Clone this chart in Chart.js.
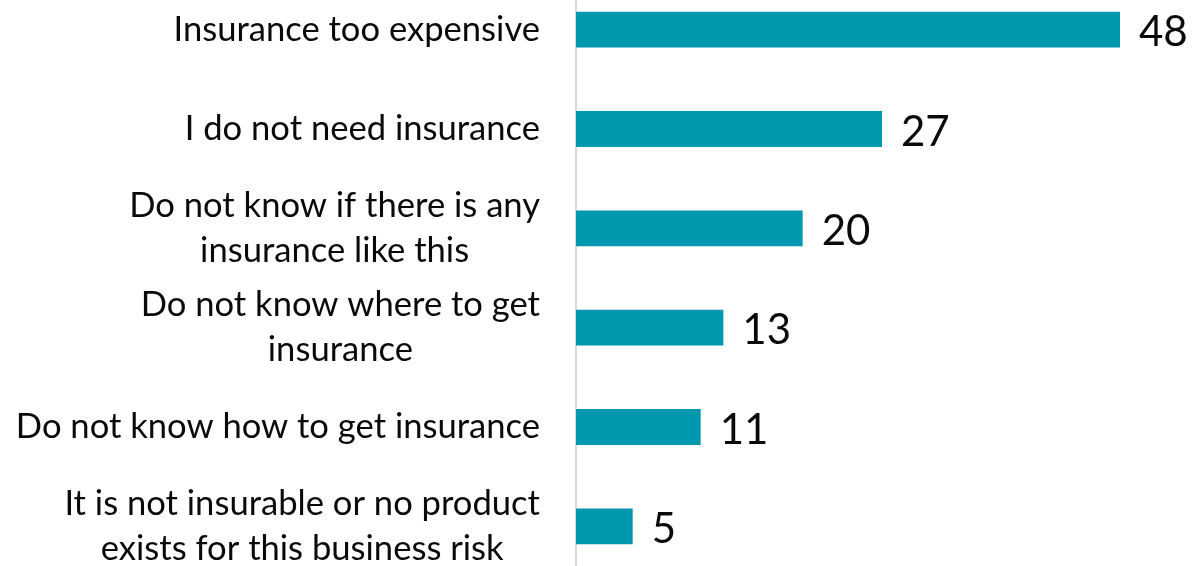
<!DOCTYPE html>
<html>
<head>
<meta charset="utf-8">
<script src="https://cdn.jsdelivr.net/npm/chart.js@4"></script>
<style>
  html, body { margin: 0; padding: 0; background: #ffffff; overflow: hidden; }
  #wrap { position: absolute; left: 0; top: -20px; width: 1196px; height: 596px; }
</style>
</head>
<body>
<div id="wrap"><canvas id="chart"></canvas></div>
<script>
// Reasons for not having business insurance (% of respondents)
const categories = [
  'Insurance too expensive',
  'I do not need insurance',
  ['Do not know if there is any', 'insurance like this'],
  ['Do not know where to get', 'insurance'],
  'Do not know how to get insurance',
  ['It is not insurable or no product', 'exists for this business risk']
];
const shares = [48, 27, 20, 13, 11, 5];

const BAR_COLOR = '#0098AF';
const TEXT_COLOR = '#0a0a0a';
const LABEL_FONT = '34.6px Lato';
const LABEL_LINE = 45;
const VALUE_FONT = '42px Lato';

// Category names: each block is right-aligned next to the axis, lines centred within the block
const categoryLabels = {
  id: 'categoryLabels',
  afterDraw(chart) {
    const { ctx, scales: { y } } = chart;
    ctx.save();
    ctx.font = LABEL_FONT;
    ctx.fillStyle = TEXT_COLOR;
    ctx.textAlign = 'center';
    ctx.textBaseline = 'middle';
    const rightEdge = y.right - 36;
    categories.forEach((cat, i) => {
      const lines = Array.isArray(cat) ? cat : [cat];
      const widest = Math.max(...lines.map(l => ctx.measureText(l).width));
      const cx = rightEdge - widest / 2;
      const cy = y.getPixelForValue(i);
      const top = cy - (lines.length - 1) * LABEL_LINE / 2;
      lines.forEach((l, k) => ctx.fillText(l, cx, top + k * LABEL_LINE));
    });
    ctx.restore();
  }
};

// Value printed just past the end of each bar
const valueLabels = {
  id: 'valueLabels',
  afterDatasetsDraw(chart) {
    const { ctx } = chart;
    const meta = chart.getDatasetMeta(0);
    ctx.save();
    ctx.font = VALUE_FONT;
    ctx.fillStyle = TEXT_COLOR;
    ctx.textAlign = 'left';
    ctx.textBaseline = 'middle';
    meta.data.forEach((bar, i) => {
      ctx.fillText(String(shares[i]), bar.x + 19, bar.y + 3);
    });
    ctx.restore();
  }
};

new Chart(document.getElementById('chart'), {
  type: 'bar',
  data: {
    labels: categories,
    datasets: [{
      data: shares,
      backgroundColor: BAR_COLOR,
      borderWidth: 0,
      categoryPercentage: 1,
      barPercentage: 0.36
    }]
  },
  options: {
    indexAxis: 'y',
    responsive: true,
    maintainAspectRatio: false,
    animation: false,
    layout: { padding: { left: 0, right: 8, top: 0, bottom: 0 } },
    plugins: { legend: { display: false }, tooltip: { enabled: false } },
    scales: {
      x: {
        display: false,
        min: 0,
        max: 54
      },
      y: {
        grid: { display: false, drawTicks: false },
        border: { display: true, color: '#d9d9d9', width: 2 },
        ticks: { display: false },
        afterFit(scale) { scale.width = 576; }
      }
    }
  },
  plugins: [categoryLabels, valueLabels]
});
</script>
</body>
</html>
